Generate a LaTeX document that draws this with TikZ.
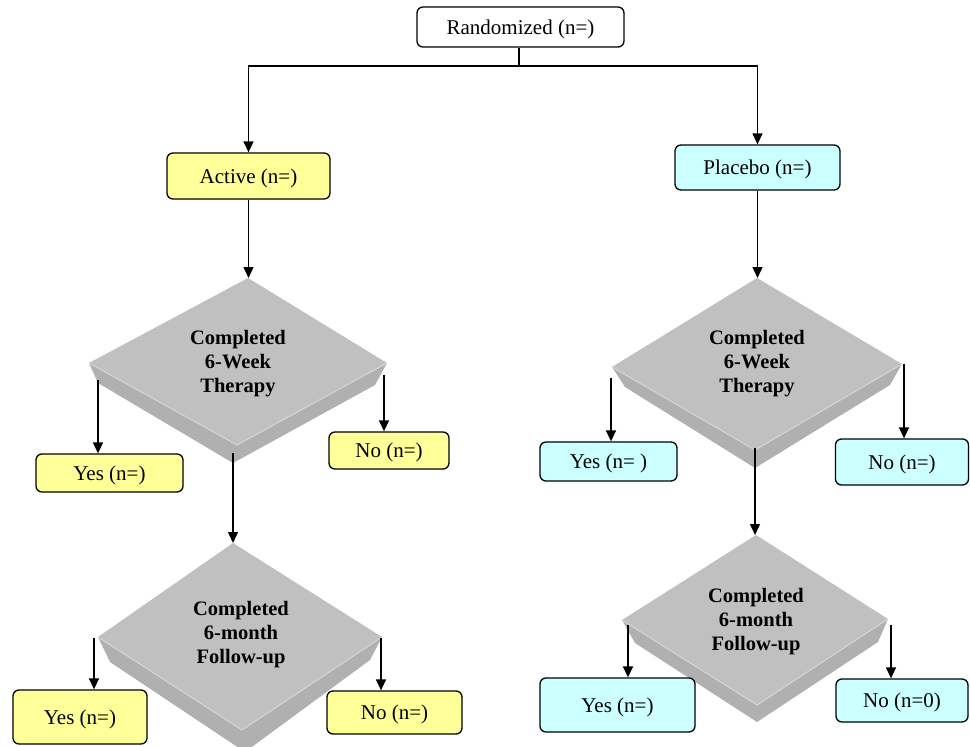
\documentclass[tikz,border=0pt]{standalone}
\usepackage{fontspec}
\setmainfont{Liberation Serif}
\usetikzlibrary{arrows.meta}
\definecolor{boxyel}{HTML}{FFFF99}
\definecolor{boxcyan}{HTML}{CCFFFF}
\definecolor{diatop}{HTML}{C0C0C0}
\definecolor{diabev}{HTML}{B0B0B0}
\definecolor{diahl}{HTML}{D6D6D6}
\tikzset{
  box/.style={draw=black, line width=1.3pt, rounded corners=6pt, inner sep=0pt,
    font=\fontsize{21}{24}\selectfont, text depth=0pt, anchor=center},
  ybox/.style={box, fill=boxyel},
  cbox/.style={box, fill=boxcyan},
  wbox/.style={box, fill=white},
  conn/.style={line width=1.4pt, draw=black},
  arr/.style={conn, -{Triangle[length=11pt,width=10pt]}},
  dtext/.style={font=\bfseries\fontsize{20.5}{24}\selectfont, align=center, inner sep=0pt}
}
% bevelled diamond: #1 T, #2 L, #3 R, #4 Lb, #5 Rb, #6 Bt, #7 B
\newcommand{\bevdia}[7]{%
  \fill[diabev] (#2) -- (#4) -- (#7) -- (#5) -- (#3) -- (#6) -- cycle;
  \fill[diatop] (#1) -- (#2) -- (#6) -- (#3) -- cycle;
  \draw[diahl, line width=1pt] (#2) -- (#6) -- (#3);
}
\begin{document}
\begin{tikzpicture}[x=1pt,y=-1pt]
\useasboundingbox (0,0) rectangle (970,747);

% diamonds
\bevdia{248,278}{89,363}{387,363}{98,383}{375,385}{237,445}{233,463}
\bevdia{233,543}{98,637}{382,637}{110,662}{370,660}{242,730}{245,752}
\bevdia{757,278}{612,367}{902,364}{625,387}{890,385}{755,450}{755,468}
\bevdia{756,535}{622,620}{888,619}{635,643}{878,642}{757,705}{757,722}

\node[dtext] (d1) at (238,364) {Completed\\6-Week\\Therapy};
\node[dtext] (d2) at (241,635) {Completed\\6-month\\Follow-up};
\node[dtext] (d3) at (757,364) {Completed\\6-Week\\Therapy};
\node[dtext] (d4) at (756,622) {Completed\\6-month\\Follow-up};

% diamond anchor points
\coordinate (d1top) at (248.5,278);
\coordinate (d1l) at (98,380);
\coordinate (d1r) at (384,375);
\coordinate (d1b) at (233,453);
\coordinate (d2top) at (233,543);
\coordinate (d2l) at (94,638);
\coordinate (d2r) at (381,638);
\coordinate (d3top) at (757.5,278);
\coordinate (d3l) at (611,378);
\coordinate (d3r) at (904,364);
\coordinate (d3b) at (755,448);
\coordinate (d4top) at (755,535);
\coordinate (d4l) at (628,625);
\coordinate (d4r) at (891,625);

% boxes
\node[wbox, minimum width=207pt, minimum height=40pt] (rand) at (520.5,27) {Randomized (n=)};
\node[ybox, minimum width=163pt, minimum height=46pt] (act) at (248.5,176) {Active (n=)};
\node[cbox, minimum width=165pt, minimum height=45pt] (plc) at (757.5,167.5) {Placebo (n=)};
\node[ybox, minimum width=147pt, minimum height=38pt] (y1) at (109.5,473) {Yes (n=)};
\node[ybox, minimum width=120pt, minimum height=37pt] (n1) at (389,450.5) {No (n=)};
\node[ybox, minimum width=134pt, minimum height=54pt] (y2) at (80,717) {Yes (n=)};
\node[ybox, minimum width=135pt, minimum height=43pt] (n2) at (394.5,712.5) {No (n=)};
\node[cbox, minimum width=137pt, minimum height=39pt] (y3) at (608.5,461.5) {Yes (n= )};
\node[cbox, minimum width=133pt, minimum height=46pt] (n3) at (902,462) {No (n=)};
\node[cbox, minimum width=155pt, minimum height=54pt] (y4) at (617.5,705) {Yes (n=)};
\node[cbox, minimum width=132pt, minimum height=43pt] (n4) at (902,700.5) {No (n=0)};

% connectors
\coordinate (j) at (519,66);
\draw[conn] (rand.south -| j) -- (j);
\draw[arr] (j) -| (act.north);
\draw[arr] (j) -| (plc.north -| d3top);

\draw[arr] (act.south) -- (d1top);
\draw[arr] (d1l) -- (d1l |- y1.north);
\draw[arr] (d1r) -- (d1r |- n1.north);
\draw[arr] (d1b) -- (d2top);
\draw[arr] (d2l) -- (d2l |- y2.north);
\draw[arr] (d2r) -- (d2r |- n2.north);

\draw[arr] (plc.south -| d3top) -- (d3top);
\draw[arr] (d3l) -- (d3l |- y3.north);
\draw[arr] (d3r) -- (d3r |- n3.north);
\draw[arr] (d3b) -- (d4top);
\draw[arr] (d4l) -- (d4l |- y4.north);
\draw[arr] (d4r) -- (d4r |- n4.north);
\end{tikzpicture}
\end{document}
